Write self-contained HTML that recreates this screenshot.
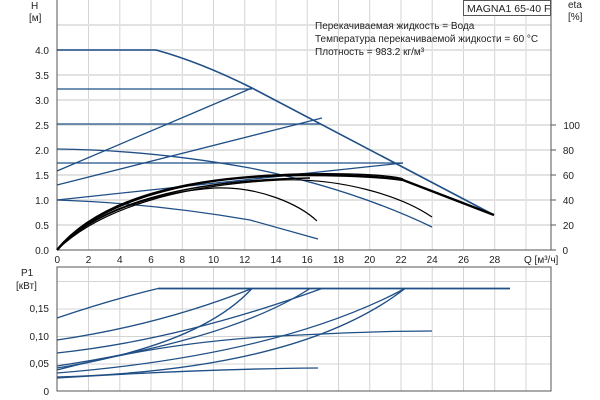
<!DOCTYPE html>
<html><head><meta charset="utf-8"><style>
html,body{margin:0;padding:0;background:#fff;}
svg{display:block;font-family:"Liberation Sans",sans-serif;}
</style></head><body>
<svg width="600" height="400" viewBox="0 0 600 400" xmlns="http://www.w3.org/2000/svg">
<rect width="600" height="400" fill="#fff"/>
<g stroke="#d4d4d4" stroke-width="1">
<line x1="88.5" y1="0" x2="88.5" y2="250"/><line x1="119.8" y1="0" x2="119.8" y2="250"/><line x1="151" y1="0" x2="151" y2="250"/><line x1="182.3" y1="0" x2="182.3" y2="250"/><line x1="213.5" y1="0" x2="213.5" y2="250"/><line x1="244.7" y1="0" x2="244.7" y2="250"/><line x1="276" y1="0" x2="276" y2="250"/><line x1="307.2" y1="0" x2="307.2" y2="250"/><line x1="338.5" y1="0" x2="338.5" y2="250"/><line x1="369.7" y1="0" x2="369.7" y2="250"/><line x1="401" y1="0" x2="401" y2="250"/><line x1="432.2" y1="0" x2="432.2" y2="250"/><line x1="463.5" y1="0" x2="463.5" y2="250"/><line x1="494.7" y1="0" x2="494.7" y2="250"/><line x1="526" y1="0" x2="526" y2="250"/>
</g>
<g stroke="#e2e2e2" stroke-width="2">
<line x1="57" y1="25" x2="551" y2="25"/><line x1="57" y1="50" x2="551" y2="50"/><line x1="57" y1="75" x2="551" y2="75"/><line x1="57" y1="100" x2="551" y2="100"/><line x1="57" y1="125" x2="551" y2="125"/><line x1="57" y1="150" x2="551" y2="150"/><line x1="57" y1="175" x2="551" y2="175"/><line x1="57" y1="200" x2="551" y2="200"/><line x1="57" y1="225" x2="551" y2="225"/>
</g>
<g stroke="#555" stroke-width="1" fill="none">
<line x1="57" y1="0" x2="57" y2="250"/><line x1="57" y1="250" x2="551" y2="250"/><line x1="551" y1="0" x2="551" y2="250"/>
</g>
<g stroke="#555" stroke-width="1">
<line x1="551" y1="125" x2="556" y2="125"/><line x1="551" y1="150" x2="556" y2="150"/><line x1="551" y1="175" x2="556" y2="175"/><line x1="551" y1="200" x2="556" y2="200"/><line x1="551" y1="225" x2="556" y2="225"/><line x1="551" y1="250" x2="556" y2="250"/>
</g>
<g stroke="#1f4f86" stroke-width="1.3" fill="none">
<path d="M57,50 L156,50 Q200,62 252,88 L494,215" stroke-width="1.6"/>
<line x1="57" y1="89" x2="252" y2="89"/>
<line x1="57" y1="124" x2="320" y2="124"/>
<line x1="57" y1="163" x2="403" y2="163"/>
<line x1="57" y1="171" x2="252" y2="88"/>
<line x1="57" y1="185" x2="322" y2="118"/>
<line x1="57" y1="200" x2="403" y2="163"/>
<path d="M57,149 Q150,150 250,168 Q350,188 432,227"/>
<path d="M57,200 Q150,203 250,220 L318,239"/>
</g>
<g stroke="#000" fill="none">
<path d="M57,250 C100,198 190,176 300,175 Q370,175 403,180 L494,215" stroke-width="2.4"/>
<path d="M57,250 C100,200 190,177 300,174 C350,173 390,175 403,179" stroke-width="1.4"/>
<path d="M57,250 C100,202 190,180 310,178" stroke-width="1.4"/>
<path d="M57,250 C95,210 160,192 214,188 C260,186 300,205 317,221" stroke-width="1.2"/>
<path d="M57,250 C100,208 180,185 280,180 C340,178 400,195 432,217" stroke-width="1.2"/>
</g>
<g font-size="10" fill="#222" text-anchor="end">
<text x="49" y="54">4.0</text><text x="49" y="79">3.5</text><text x="49" y="104">3.0</text><text x="49" y="129">2.5</text><text x="49" y="154">2.0</text><text x="49" y="179">1.5</text><text x="49" y="204">1.0</text><text x="49" y="229">0.5</text><text x="49" y="254">0.0</text>
</g>
<g font-size="10" fill="#222" text-anchor="end">
<text x="580" y="129">100</text><text x="574" y="154">80</text><text x="574" y="179">60</text><text x="574" y="204">40</text><text x="574" y="229">20</text><text x="568" y="254">0</text>
</g>
<g font-size="10" fill="#222" text-anchor="middle">
<text x="57.3" y="263">0</text><text x="88.5" y="263">2</text><text x="119.8" y="263">4</text><text x="151" y="263">6</text><text x="182.3" y="263">8</text><text x="213.5" y="263">10</text><text x="244.7" y="263">12</text><text x="276" y="263">14</text><text x="307.2" y="263">16</text><text x="338.5" y="263">18</text><text x="369.7" y="263">20</text><text x="401" y="263">22</text><text x="432.2" y="263">24</text><text x="463.5" y="263">26</text><text x="494.7" y="263">28</text>
</g>
<text x="524" y="263" font-size="10" fill="#222">Q [м³/ч]</text>
<text x="31" y="9" font-size="10" fill="#222">H</text>
<text x="29" y="21" font-size="10" fill="#222">[м]</text>
<text x="568" y="8" font-size="10" fill="#222">eta</text>
<text x="568" y="20" font-size="10" fill="#222">[%]</text>
<rect x="463.5" y="0.5" width="87" height="15" fill="#fff" stroke="#555"/>
<text x="467" y="12" font-size="10.5" fill="#222">MAGNA1 65-40 F</text>
<g font-size="10" fill="#222">
<text x="315" y="29">Перекачиваемая жидкость = Вода</text>
<text x="315" y="42">Температура перекачиваемой жидкости = 60 °C</text>
<text x="315" y="55">Плотность = 983.2 кг/м³</text>
</g>
<g stroke="#d4d4d4" stroke-width="1">
<line x1="88.5" y1="267" x2="88.5" y2="391"/><line x1="119.8" y1="267" x2="119.8" y2="391"/><line x1="151" y1="267" x2="151" y2="391"/><line x1="182.3" y1="267" x2="182.3" y2="391"/><line x1="213.5" y1="267" x2="213.5" y2="391"/><line x1="244.7" y1="267" x2="244.7" y2="391"/><line x1="276" y1="267" x2="276" y2="391"/><line x1="307.2" y1="267" x2="307.2" y2="391"/><line x1="338.5" y1="267" x2="338.5" y2="391"/><line x1="369.7" y1="267" x2="369.7" y2="391"/><line x1="401" y1="267" x2="401" y2="391"/><line x1="432.2" y1="267" x2="432.2" y2="391"/><line x1="463.5" y1="267" x2="463.5" y2="391"/><line x1="494.7" y1="267" x2="494.7" y2="391"/><line x1="526" y1="267" x2="526" y2="391"/>
<line x1="57" y1="281.5" x2="551" y2="281.5"/><line x1="57" y1="309" x2="551" y2="309"/><line x1="57" y1="336.5" x2="551" y2="336.5"/><line x1="57" y1="364" x2="551" y2="364"/>
</g>
<rect x="57" y="267" width="494" height="124" fill="none" stroke="#555"/>
<g stroke="#1f4f86" stroke-width="1.3" fill="none">
<line x1="158" y1="288.5" x2="510" y2="288.5" stroke-width="1.8"/>
<path d="M57,318 Q110,300 158,288.5"/>
<path d="M57,340 Q160,325 252,288.5"/>
<path d="M57,353 Q180,340 322,288.5"/>
<path d="M57,368 Q200,345 252,288.5"/>
<path d="M57,366 Q230,340 310,288.5"/>
<path d="M57,373 Q280,355 405,288.5"/>
<path d="M57,377 Q300,370 405,288.5"/>
<path d="M57,370 Q170,340 300,335 Q380,331 432,331"/>
<path d="M57,378 Q200,369 318,368"/>
</g>
<g font-size="10" fill="#222" text-anchor="end">
<text x="49" y="312">0,15</text><text x="49" y="340">0,10</text><text x="49" y="367">0,05</text><text x="49" y="395">0</text>
</g>
<text x="21" y="276" font-size="10" fill="#222">P1</text>
<text x="16" y="289" font-size="10" fill="#222">[кВт]</text>
</svg>
</body></html>
